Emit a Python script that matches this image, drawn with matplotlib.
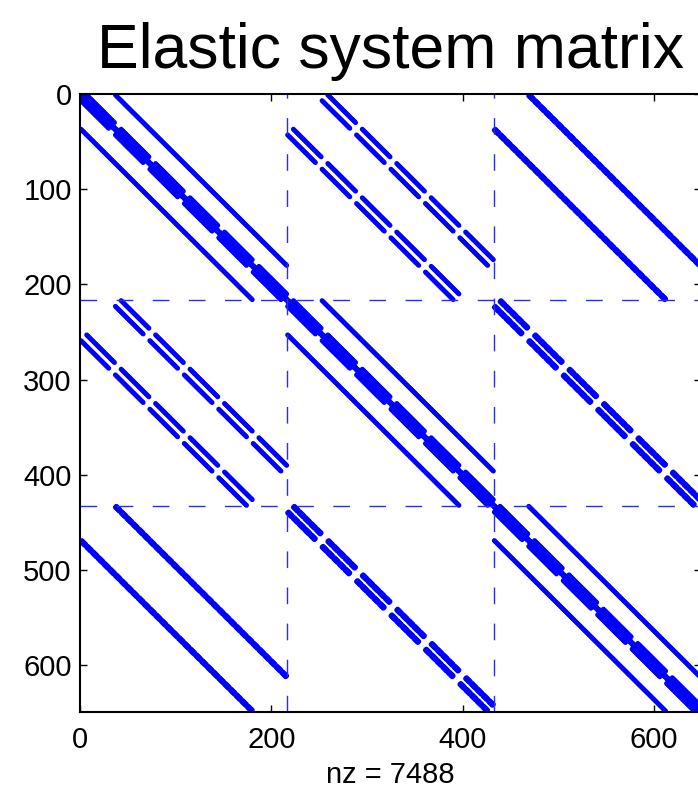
import numpy as np
import matplotlib
matplotlib.use("Agg")
import matplotlib.pyplot as plt
from itertools import product

plt.rcParams['font.family'] = ['Liberation Sans', 'DejaVu Sans']

# grid / block layout of the elastic system (3 displacement components on a 6x6x6 grid)
grid_n = 6
strides = [36, 6, 1]
n_comp = 3
block_size = grid_n ** 3

# stencil of a diagonal block (7-point Laplacian) and of the off-diagonal mixed-derivative blocks
diag_stencil = [(0, 0, 0), (1, 0, 0), (-1, 0, 0), (0, 1, 0), (0, -1, 0), (0, 0, 1), (0, 0, -1)]
mixed_signs = [(1, 1), (1, -1), (-1, 1), (-1, -1)]

separators = [216.5, 432.5]
x_ticks = [0, 200, 400, 600]
y_ticks = [0, 100, 200, 300, 400, 500, 600]
title = "Elastic system matrix"

# build the sparsity pattern
pts = np.array(list(product(range(grid_n), repeat=3)))
strides_arr = np.array(strides)
rows_all, cols_all = [], []
for p in range(n_comp):
    for q in range(n_comp):
        if p == q:
            disps = diag_stencil
        else:
            disps = []
            for sp, sq in mixed_signs:
                d = [0, 0, 0]
                d[p] = sp
                d[q] = sq
                disps.append(tuple(d))
        for d in disps:
            d = np.array(d)
            nb = pts + d
            ok = np.all((nb >= 0) & (nb < grid_n), axis=1)
            r = pts[ok] @ strides_arr
            c = nb[ok] @ strides_arr
            rows_all.append(r + p * block_size)
            cols_all.append(c + q * block_size)
rows = np.concatenate(rows_all)
cols = np.concatenate(cols_all)
n = n_comp * block_size

fig = plt.figure(figsize=(6.98, 7.89), dpi=100)
ax = fig.add_axes([80 / 698, 77 / 789, 621 / 698, 618 / 789])

# per-point sizes so Agg does not stamp markers at whole pixels
sizes = np.full(len(rows), 3.5 ** 2)
ax.scatter(cols + 1, rows + 1, s=sizes, c='#0000ff', linewidths=0, marker='o')
for s in separators:
    ax.axhline(s, color='#2a2aff', lw=1.0, dashes=(12, 14))
    ax.axvline(s, color='#2a2aff', lw=1.0, dashes=(12, 14))

ax.set_xlim(0, n + 1)
ax.set_ylim(n + 1, 0)
ax.set_xticks(x_ticks)
ax.set_yticks(y_ticks)
ax.tick_params(direction='in', length=5, width=1, top=True, right=True,
               labelsize=21, colors='black')
ax.tick_params(axis='x', pad=10)
ax.tick_params(axis='y', pad=6)
for sp in ax.spines.values():
    sp.set_linewidth(1.5)

ax.set_title(title, fontsize=45, pad=19)
ax.set_xlabel("nz = %d" % len(rows), fontsize=21, labelpad=5)

fig.savefig("out.png", dpi=100)
